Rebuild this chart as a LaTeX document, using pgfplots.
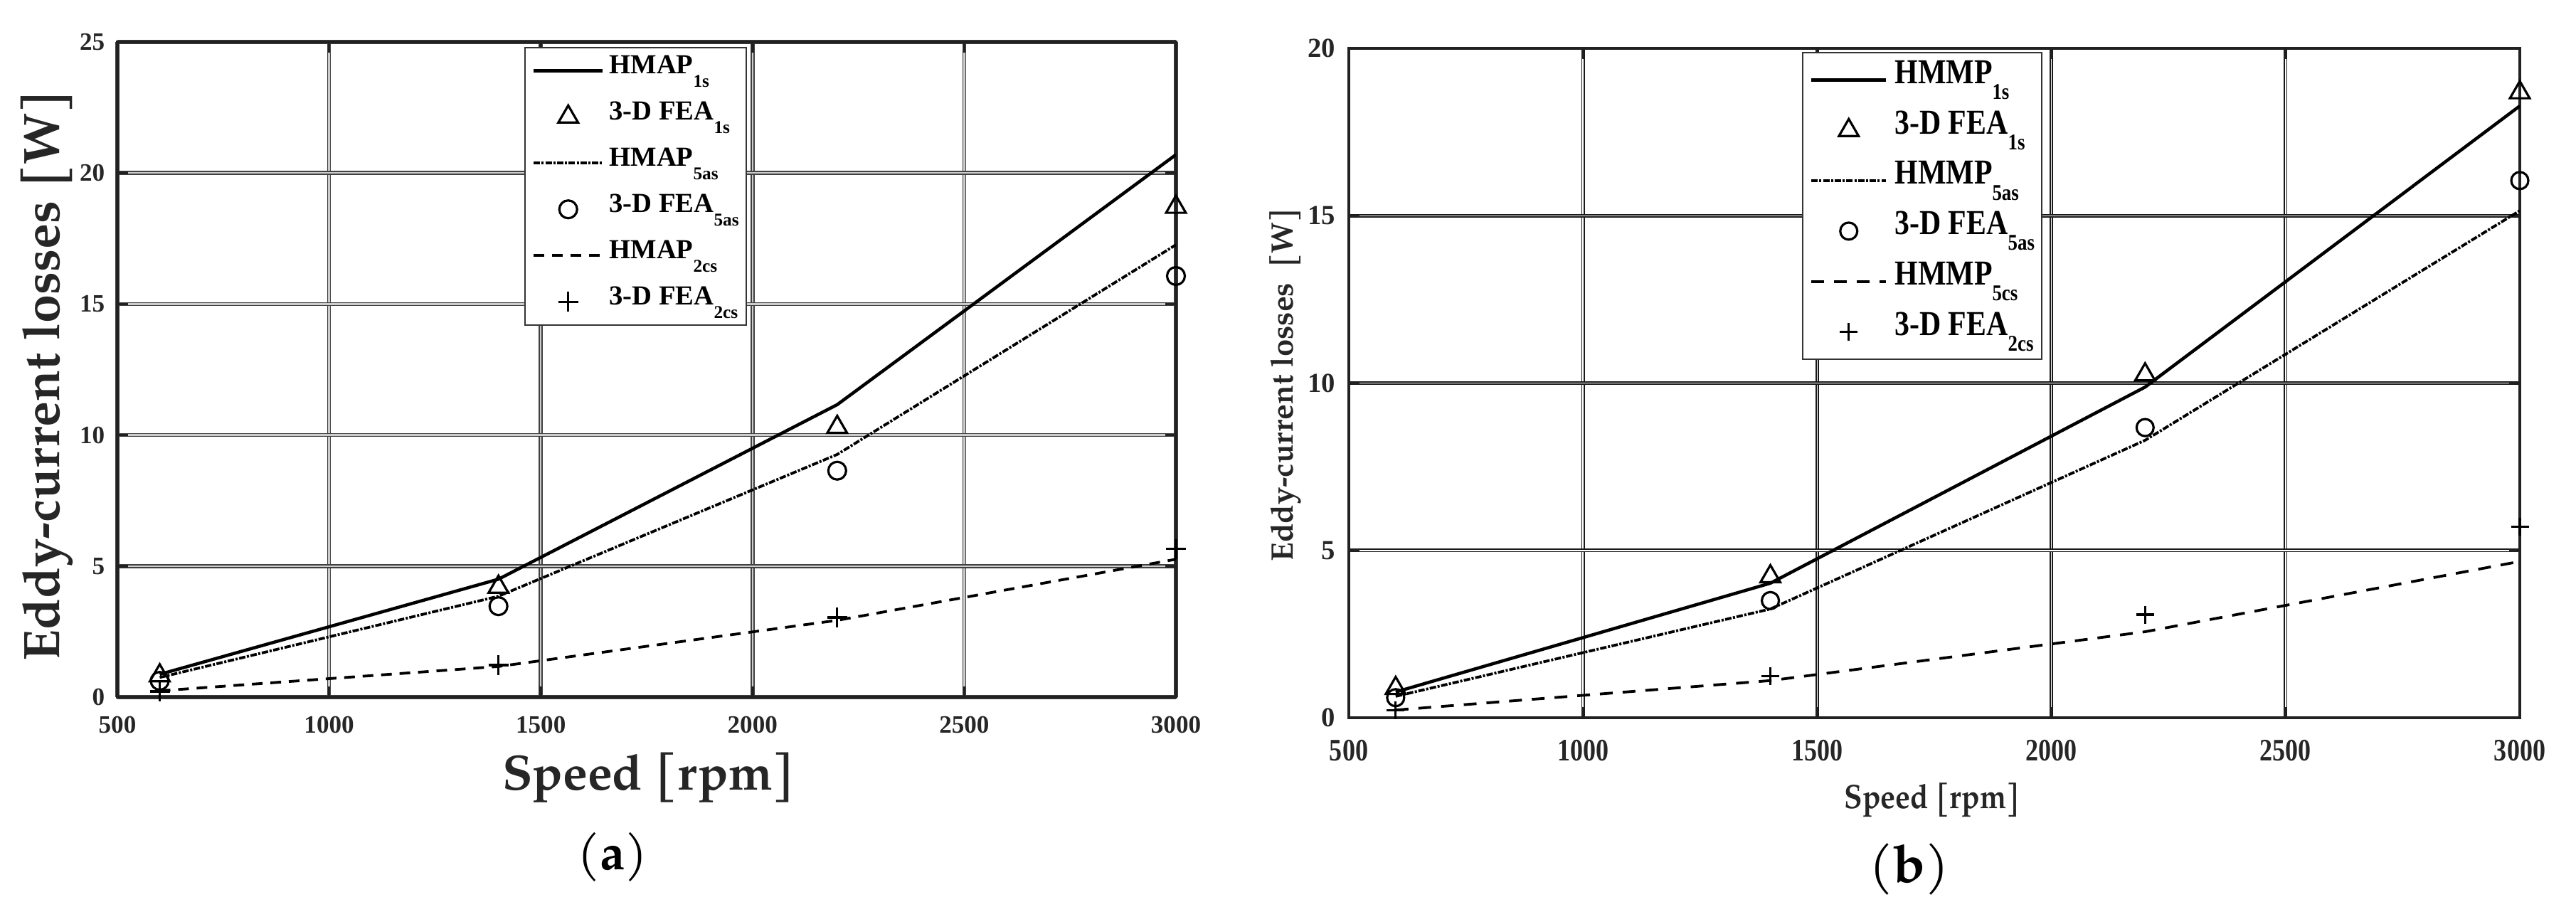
\documentclass[border=0pt]{standalone}
\usepackage{fontspec}
\usepackage{pgfplots}
\pgfplotsset{compat=1.18}
\setmainfont{Liberation Serif}
\newfontfamily\pal{TeX Gyre Pagella}
\newfontfamily\palc[FakeStretch=0.88]{TeX Gyre Pagella}
\newfontfamily\tms{Liberation Serif}
\newfontfamily\tmsc[FakeStretch=0.82]{Liberation Serif}
\newfontfamily\tmsl[FakeStretch=0.85]{Liberation Serif}
\definecolor{txt}{HTML}{262626}
\newcommand\subA[1]{\raisebox{-0.5em}{\fontsize{7.2}{8}\selectfont #1}}
\newcommand\subB[1]{\raisebox{-0.45em}{\fontsize{9}{10}\selectfont #1}}
\begin{document}
\begin{tikzpicture}
\path[use as bounding box] (0,0) rectangle (362.1mm,126mm);
% ---------------- panel (a)
\begin{axis}[
  at={(16.5mm,28.0mm)}, anchor=south west,
  scale only axis, width=148.8mm, height=92.1mm,
  xmin=500, xmax=3000, ymin=0, ymax=25,
  xtick={500,1000,...,3000}, xticklabels={500,1000,1500,2000,2500,3000},
  ytick={0,5,...,25}, yticklabels={0,5,10,15,20,25},
  grid=major,
  major grid style={draw=black!75, line width=0.15mm, double=black!20, double distance=0.25mm},
  axis line style={draw=black!87, line width=0.4mm},
  tick align=inside, major tick length=1.5mm,
  major tick style={black!87, line width=0.35mm},
  xticklabel style={font=\tms\bfseries\fontsize{10}{12}\selectfont, text=txt, inner sep=0pt, yshift=-2.6mm},
  yticklabel style={font=\tms\bfseries\fontsize{10}{12}\selectfont, text=txt, inner sep=0pt, xshift=-1.7mm},
  legend style={at={(0.3844,0.9924)}, anchor=north west, draw=black!80, line width=0.2mm, fill=white,
    inner xsep=1mm, inner ysep=0.9mm, row sep=1.85mm, column sep=0.7mm,
    font=\tms\bfseries\fontsize{11}{13}\selectfont,
    nodes={inner sep=0pt, text height=2.71mm, text depth=1.94mm}},
  legend cell align=left,
  legend image code/.code={\draw[mark repeat=2,mark phase=2,#1] plot coordinates {(0mm,0mm) (4.85mm,0mm) (9.7mm,0mm)};},
]
\addplot[black, line width=0.45mm, mark=none] coordinates {(600,0.87) (1400,4.5) (2200,11.16) (3000,20.7)};
\addlegendentry{HMAP\subA{1s}}
\addplot[only marks, mark=triangle, mark size=1.6mm, mark options={black, line width=0.32mm, solid}] coordinates {(600,0.82) (1400,4.2) (2200,10.3) (3000,18.7)};
\addlegendentry{3-D FEA\subA{1s}}
\addplot[black, line width=0.38mm, mark=none, dash pattern=on 0.9mm off 0.22mm on 0.3mm off 0.22mm] coordinates {(600,0.75) (1400,3.85) (2200,9.26) (3000,17.26)};
\addlegendentry{HMAP\subA{5as}}
\addplot[only marks, mark=o, mark size=1.25mm, mark options={black, line width=0.32mm, solid}] coordinates {(600,0.62) (1400,3.47) (2200,8.64) (3000,16.07)};
\addlegendentry{3-D FEA\subA{5as}}
\addplot[black, line width=0.38mm, mark=none, dash pattern=on 1.5mm off 1.1mm] coordinates {(600,0.24) (1400,1.17) (2200,2.93) (3000,5.26)};
\addlegendentry{HMAP\subA{2cs}}
\addplot[only marks, mark=+, mark size=1.4mm, mark options={black, line width=0.32mm, solid}] coordinates {(600,0.22) (1400,1.22) (2200,3.04) (3000,5.65)};
\addlegendentry{3-D FEA\subA{2cs}}
\end{axis}
% ---------------- panel (b)
\begin{axis}[
  at={(189.6mm,25.1mm)}, anchor=south west,
  scale only axis, width=164.6mm, height=94.1mm,
  xmin=500, xmax=3000, ymin=0, ymax=20,
  xtick={500,1000,...,3000}, xticklabels={500,1000,1500,2000,2500,3000},
  ytick={0,5,...,20}, yticklabels={0,5,10,15,20},
  grid=major,
  major grid style={draw=black!90, line width=0.16mm, double=white, double distance=0.15mm},
  axis line style={draw=black!87, line width=0.4mm},
  tick align=inside, major tick length=1.5mm,
  major tick style={black!87, line width=0.35mm},
  xticklabel style={font=\tmsc\bfseries\fontsize{12.5}{14}\selectfont, text=txt, inner sep=0pt, yshift=-3.1mm},
  yticklabel style={font=\tms\bfseries\fontsize{11}{13}\selectfont, text=txt, inner sep=0pt, xshift=-1.8mm},
  legend style={at={(0.387,0.9947)}, anchor=north west, draw=black!80, line width=0.2mm, fill=white,
    inner xsep=1mm, inner ysep=0.9mm, row sep=1.18mm, column sep=1.0mm,
    font=\tmsl\bfseries\fontsize{14}{16}\selectfont,
    nodes={inner sep=0pt, text height=3.44mm, text depth=2.46mm}},
  legend cell align=left,
  legend image code/.code={\draw[mark repeat=2,mark phase=2,#1] plot coordinates {(0mm,0mm) (5.25mm,0mm) (10.5mm,0mm)};},
]
\addplot[black, line width=0.45mm, mark=none] coordinates {(600,0.77) (1400,4.02) (2200,9.88) (3000,18.28)};
\addlegendentry{HMMP\subB{1s}}
\addplot[only marks, mark=triangle, mark size=1.6mm, mark options={black, line width=0.32mm, solid}] coordinates {(600,0.88) (1400,4.22) (2200,10.25) (3000,18.68)};
\addlegendentry{3-D FEA\subB{1s}}
\addplot[black, line width=0.38mm, mark=none, dash pattern=on 0.9mm off 0.22mm on 0.3mm off 0.22mm] coordinates {(600,0.64) (1400,3.25) (2200,8.29) (3000,15.15)};
\addlegendentry{HMMP\subB{5as}}
\addplot[only marks, mark=o, mark size=1.2mm, mark options={black, line width=0.32mm, solid}] coordinates {(600,0.6) (1400,3.5) (2200,8.67) (3000,16.05)};
\addlegendentry{3-D FEA\subB{5as}}
\addplot[black, line width=0.38mm, mark=none, dash pattern=on 1.8mm off 1.4mm] coordinates {(600,0.23) (1400,1.11) (2200,2.57) (3000,4.67)};
\addlegendentry{HMMP\subB{5cs}}
\addplot[only marks, mark=+, mark size=1.25mm, mark options={black, line width=0.32mm, solid}] coordinates {(600,0.22) (1400,1.25) (2200,3.08) (3000,5.7)};
\addlegendentry{3-D FEA\subB{2cs}}
\end{axis}
% ---------------- labels
\node[rotate=90, anchor=base, font=\pal\bfseries\fontsize{20.5}{24}\selectfont, text=txt] at (8.3mm,73.2mm) {Eddy-current losses [W]};
\node[anchor=base, font=\pal\bfseries\fontsize{19.8}{24}\selectfont, text=txt] at (91.2mm,15.0mm) {Speed [rpm]};
\node[anchor=base, font=\pal\fontsize{20}{24}\selectfont] at (86.1mm,3.8mm) {(\textbf{a})};
\node[rotate=90, anchor=base, font=\pal\bfseries\fontsize{12.4}{15}\selectfont, text=txt] at (181.7mm,71.9mm) {Eddy-current losses\ \ [W]};
\node[anchor=base, font=\palc\bfseries\fontsize{13.5}{16}\selectfont, text=txt] at (271.6mm,12.4mm) {Speed [rpm]};
\node[anchor=base, font=\pal\fontsize{21}{25}\selectfont] at (268.4mm,2.0mm) {(\textbf{b})};
\end{tikzpicture}
\end{document}
